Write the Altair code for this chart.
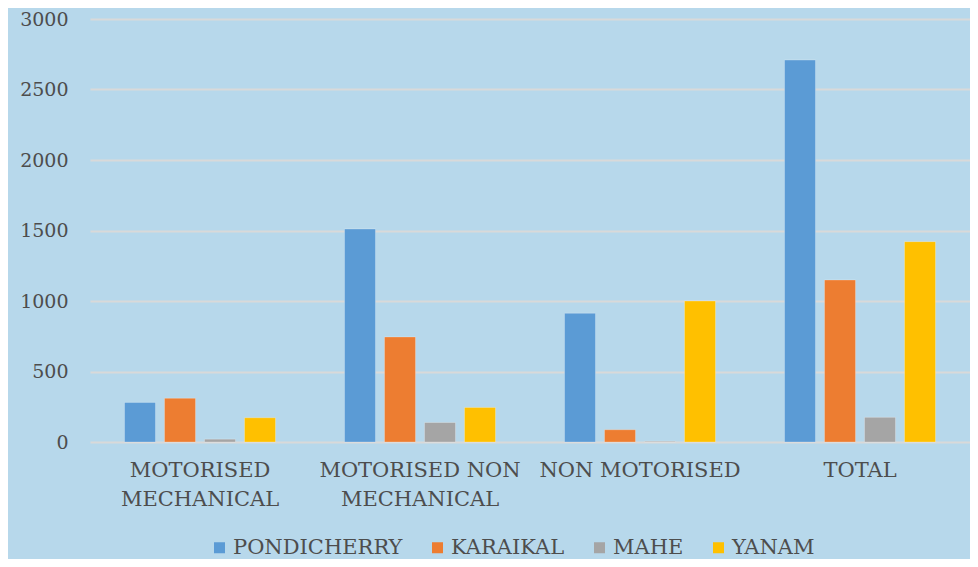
import altair as alt
import pandas as pd

categories = ["MOTORISED MECHANICAL", "MOTORISED NON MECHANICAL", "NON MOTORISED", "TOTAL"]
regions = ["PONDICHERRY", "KARAIKAL", "MAHE", "YANAM"]
pondicherry = [281, 1511, 913, 2709]
karaikal = [310, 745, 87, 1149]
mahe = [20, 138, 5, 175]
yanam = [172, 245, 1000, 1421]
colors = ["#5B9BD5", "#ED7D31", "#A5A5A5", "#FFC000"]
y_ticks = [0, 500, 1000, 1500, 2000, 2500, 3000]

rows = []
for series_name, vals in zip(regions, [pondicherry, karaikal, mahe, yanam]):
    for c, v in zip(categories, vals):
        rows.append({"category": c, "region": series_name, "value": v})
df = pd.DataFrame(rows)

FONT = "DejaVu Serif"
TXT = "#4D4D4D"

label_expr = (
    "datum.value == 'MOTORISED MECHANICAL' ? ['MOTORISED', 'MECHANICAL'] : "
    "datum.value == 'MOTORISED NON MECHANICAL' ? ['MOTORISED NON', 'MECHANICAL'] : datum.value"
)

chart = alt.Chart(df).mark_bar(stroke="#ffffff", strokeOpacity=0.25, strokeWidth=1).encode(
    x=alt.X("category:N", sort=categories, title=None,
            scale=alt.Scale(paddingInner=0, paddingOuter=0),
            axis=alt.Axis(labelAngle=0, labelExpr=label_expr, labelFont=FONT, labelFontSize=21,
                          labelColor=TXT, labelPadding=17, labelLineHeight=29, ticks=False,
                          domain=False, labelBaseline="top", labelLimit=0)),
    xOffset=alt.XOffset("region:N", sort=regions,
                        scale=alt.Scale(paddingInner=0.225, paddingOuter=0.8625)),
    y=alt.Y("value:Q", title=None,
            scale=alt.Scale(domain=[0, 3000], nice=False),
            axis=alt.Axis(values=y_ticks, format="d", labelFont=FONT, labelFontSize=19,
                          labelColor=TXT, labelPadding=22, ticks=False, domain=False,
                          gridColor="#D9D9D9", gridWidth=2)),
    color=alt.Color("region:N", sort=regions,
                    scale=alt.Scale(domain=regions, range=colors),
                    legend=alt.Legend(title=None, orient="none", direction="horizontal",
                                      legendX=119, legendY=518, symbolType="square",
                                      symbolSize=121, symbolStrokeWidth=0, labelFont=FONT,
                                      labelFontSize=21, labelColor=TXT, labelOffset=3,
                                      columnPadding=24, labelLimit=0)),
).properties(
    width=880, height=423,
    autosize=alt.AutoSizeParams(type="none"),
    padding={"left": 82, "top": 11, "right": 0, "bottom": 117},
    background="#B7D8EB",
).configure_view(stroke=None)

chart.save("out.html", embed_options={"renderer": "svg", "actions": False})
